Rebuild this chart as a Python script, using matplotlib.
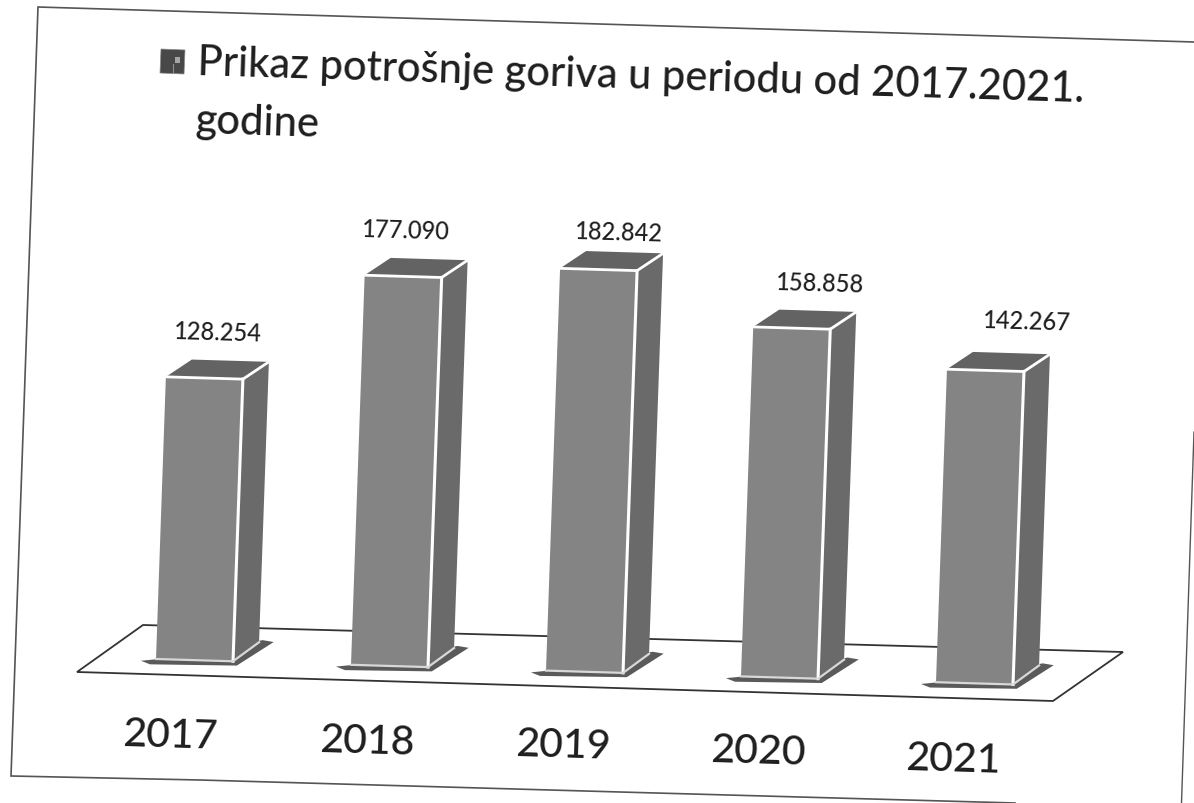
import matplotlib
matplotlib.use("Agg")
import matplotlib.pyplot as plt
from matplotlib.patches import Polygon
from matplotlib.transforms import Affine2D

plt.rcParams['font.family'] = ['Lato', 'DejaVu Sans']

years = ["2017", "2018", "2019", "2020", "2021"]
fuel_use = [128254, 177090, 182842, 158858, 142267]
title_lines = ["Prikaz potrošnje goriva u periodu od 2017.2021.", "godine"]

value_label_xy = [(217, 333), (405, 231), (618, 233), (819, 284), (1026, 322)]
year_label_xy = [(170, 736), (367, 742), (563, 746), (758, 752), (953, 760)]

W, H = 1194, 804
FRONT, SIDE, TOP, SHADOW, INK = "#848484", "#6a6a6a", "#636363", "#5a5a5a", "#1e1e1e"
FRAME = "#555555"

fig = plt.figure(figsize=(W / 100, H / 100), dpi=100, facecolor="white")
ax = fig.add_axes([0, 0, 1, 1])
ax.axis("off")

# category index / value -> scan pixel position (the page is tilted on the scanner)
bar_tf = Affine2D.from_values(195, 5.8, 7.7e-5, -0.0022, 156, 660) + ax.transData

# scanned page frame
ax.plot([1194, 38, 11, 200, 620, 1015], [43, 8, 777, 781, 793, 804], color=FRAME, lw=1.2,
        solid_joinstyle="miter")
ax.plot([1194, 1181.5], [433, 804], color=FRAME, lw=1.0)

# floor
ax.add_patch(Polygon([(77, 673), (1053, 702), (1123, 653), (143, 626)], closed=True,
                     facecolor="white", edgecolor="#333333", lw=1.3, zorder=1))

width = 0.395
depth_i = 0.13
depth_top = 8200
depth_bottom = 9000

for i, v in enumerate(fuel_use):
    # floor shadow
    ax.add_patch(Polygon([(i - 0.077, -1000), (i - 0.03, -2500), (i + 0.415, -1900),
                          (i + 0.60, 9300), (i + 0.543, 10000), (i + 0.1, 1000)],
                         closed=True, transform=bar_tf, facecolor=SHADOW, edgecolor="none", zorder=2))
    # side
    ax.add_patch(Polygon([(i + width, 0), (i + width + depth_i, depth_bottom),
                          (i + width + depth_i, v + depth_top), (i + width, v)],
                         closed=True, transform=bar_tf, facecolor=SIDE, edgecolor="none", zorder=3))
    # top
    ax.add_patch(Polygon([(i, v), (i + width, v), (i + width + depth_i, v + depth_top),
                          (i + depth_i, v + depth_top)],
                         closed=True, transform=bar_tf, facecolor=TOP, edgecolor="none", zorder=3))

ax.bar(range(len(fuel_use)), fuel_use, width=width, align="edge", color=FRONT,
       linewidth=0, transform=bar_tf, zorder=4)

for i, v in enumerate(fuel_use):
    ax.plot([i, i + width, i + width + depth_i], [v, v, v + depth_top], color="white", lw=2.0,
            transform=bar_tf, zorder=5, solid_joinstyle="miter")
    ax.plot([i + width, i + width], [v, 0], color="white", lw=2.2, transform=bar_tf, zorder=5)
    ax.plot([i, i + width, i + width + depth_i], [0, 0, depth_bottom], color="#d8d8d8", lw=1.6,
            transform=bar_tf, zorder=5)

# value labels
for (x, y), v in zip(value_label_xy, fuel_use):
    ax.text(x, y, f"{v:,}".replace(",", "."), fontsize=17, fontweight="medium", color=INK,
            ha="center", va="center", rotation=-1.7, rotation_mode="anchor", zorder=6)

# category labels
for (x, y), label in zip(year_label_xy, years):
    ax.text(x, y, label, fontsize=29.5, fontweight="medium", color=INK, ha="center", va="center",
            rotation=-1.7, rotation_mode="anchor", zorder=6)

# title marker and two title lines
ax.add_patch(Polygon([(161, 50), (185, 51), (184, 75), (160, 74)], closed=True,
                     facecolor="#484848", edgecolor="#8a8a8a", lw=0.5, zorder=6))
ax.add_patch(Polygon([(175, 58), (180, 58), (180, 64), (175, 64)], closed=True,
                     facecolor="#a5a5a5", edgecolor="none", zorder=7))
ax.plot([173, 173], [65, 73], color="#8f8f8f", lw=0.8, zorder=7)
ax.text(197, 75, title_lines[0], fontsize=30, fontweight="medium", color=INK, ha="left",
        va="baseline", rotation=-1.75, rotation_mode="anchor", zorder=6)
ax.text(195, 133, title_lines[1], fontsize=30, fontweight="medium", color=INK, ha="left",
        va="baseline", rotation=-1.75, rotation_mode="anchor", zorder=6)

ax.set_xlim(0, W)
ax.set_ylim(H, 0)
fig.savefig("out.png", dpi=100, facecolor="white")
